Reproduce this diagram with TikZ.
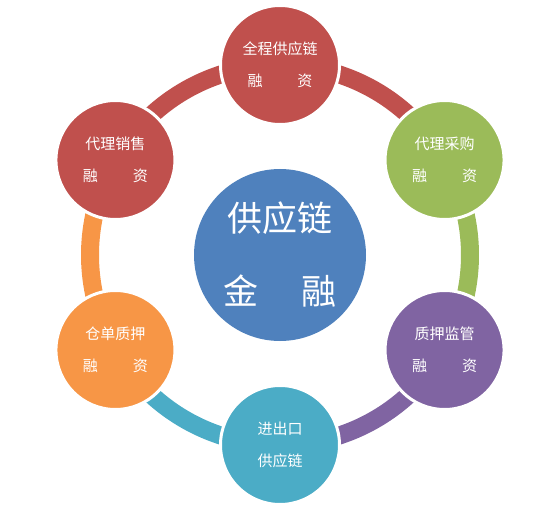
\documentclass[tikz,border=0pt]{standalone}
\usepackage{fontspec}
\setmainfont{Noto Sans CJK SC}
\usetikzlibrary{backgrounds}
\definecolor{cRed}{HTML}{C0504D}
\definecolor{cGreen}{HTML}{9BBB59}
\definecolor{cPurple}{HTML}{8064A2}
\definecolor{cTeal}{HTML}{4BACC6}
\definecolor{cOrange}{HTML}{F79646}
\definecolor{cBlue}{HTML}{4F81BD}
\begin{document}
\begin{tikzpicture}[x=1pt,y=-1pt,
  ringarc/.style={line width=18pt},
  outer/.style={circle, draw=white, line width=3pt, minimum size=119pt, inner sep=0pt,
    text=white, align=center, font=\fontsize{15}{32}\selectfont},
  hub/.style={circle, fill=cBlue, minimum size=172pt, inner sep=0pt,
    text=white, align=center, font=\fontsize{35}{73}\selectfont}]
\useasboundingbox (0,0) rectangle (558,511);
\coordinate (ctr) at (280,255);
\node[outer, fill=cRed]    (top) at ([shift={(90:190pt)}]ctr) {全程供应链\\融\hspace{35pt}资};
\node[outer, fill=cGreen]  (tr)  at ([shift={(30:190pt)}]ctr) {代理采购\\融\hspace{35pt}资};
\node[outer, fill=cPurple] (br)  at ([shift={(-30:190pt)}]ctr) {质押监管\\融\hspace{35pt}资};
\node[outer, fill=cTeal]   (bot) at ([shift={(-90:190pt)}]ctr) {进出口\\供应链};
\node[outer, fill=cOrange] (bl)  at ([shift={(210:190pt)}]ctr) {仓单质押\\融\hspace{35pt}资};
\node[outer, fill=cRed]    (tl)  at ([shift={(150:190pt)}]ctr) {代理销售\\融\hspace{35pt}资};
\node[hub] (hubc) at (ctr) {供应链\\金\hspace{43pt}融};
\begin{scope}[on background layer]
\draw[ringarc, draw=cRed]    (top.center) arc[start angle=90,  end angle=30,   radius=190pt];
\draw[ringarc, draw=cGreen]  (tr.center)  arc[start angle=30,  end angle=-30,  radius=190pt];
\draw[ringarc, draw=cPurple] (br.center)  arc[start angle=-30, end angle=-90,  radius=190pt];
\draw[ringarc, draw=cTeal]   (bot.center) arc[start angle=-90, end angle=-150, radius=190pt];
\draw[ringarc, draw=cOrange] (bl.center)  arc[start angle=210, end angle=150,  radius=190pt];
\draw[ringarc, draw=cRed]    (tl.center)  arc[start angle=150, end angle=90,   radius=190pt];
\end{scope}
\end{tikzpicture}
\end{document}
